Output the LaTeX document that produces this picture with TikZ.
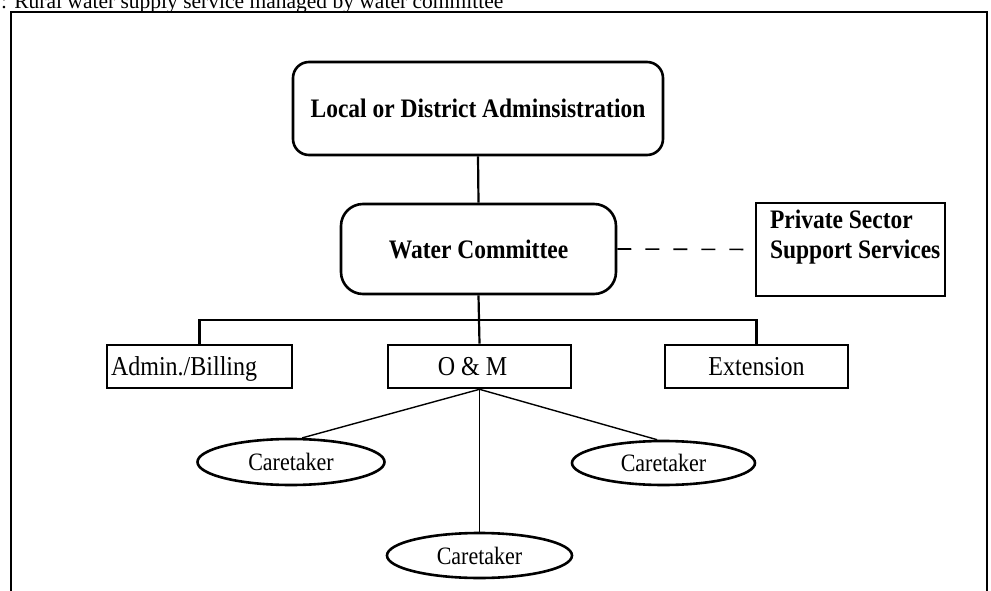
\documentclass[tikz,border=0pt]{standalone}
\usepackage{fontspec}
\setmainfont{Liberation Serif}[FakeStretch=0.88]
\newfontfamily\capfont{Liberation Serif}
\usetikzlibrary{shapes.geometric}
\begin{document}
\begin{tikzpicture}[x=1pt,y=-1pt,
  boldbox/.style={draw, line width=2.6pt, rounded corners=#1, inner sep=0pt, font=\fontsize{26.7}{30}\selectfont\bfseries},
  plainbox/.style={draw, line width=2.4pt, inner sep=0pt, font=\fontsize{26.7}{30}\selectfont\bfseries},
  unitbox/.style={draw, line width=2.6pt, inner sep=0pt, minimum height=43pt, text height=18pt, text depth=0pt, font=\fontsize{27.3}{30}\selectfont},
  carebox/.style={draw, ellipse, line width=2.6pt, inner sep=0pt, font=\fontsize{25}{28}\selectfont},
  link/.style={line width=2.2pt},
  thinlink/.style={line width=1.4pt},
  dashlink/.style={line width=1.6pt, dash pattern=on 14pt off 14pt},
  frameline/.style={line width=2pt}
]
\useasboundingbox (0,0) rectangle (991,591);

% caption, cut off by the top edge as in the reference
\node[anchor=base west, inner sep=0pt, font=\capfont\fontsize{21.5}{24}\selectfont] (cap) at (1,9)
  {: Rural water supply service managed by water committee};

% frame
\draw[frameline] (11,600) -- (11,12) -- (987,12) -- (987,600);

% nodes
\node[boldbox=16pt, minimum width=370pt, minimum height=93pt] (lda) at (478,108.5)
  {Local or District Adminsistration};
\node[boldbox=22pt, minimum width=275pt, minimum height=90pt] (wc) at (478.5,249)
  {Water Committee};
\node[plainbox, minimum width=189pt, minimum height=93pt] (pss) at (850.5,249.5)
  {\parbox[c][80pt][t]{161pt}{\mbox{Private Sector}\\\mbox{Support Services}}};

\node[unitbox, minimum width=185pt] (adm) at (199.5,366.5) {\makebox[177pt][l]{Admin./Billing}};
\node[unitbox, minimum width=183pt] (om) at (479.5,366.5) {\makebox[183pt]{O \& M\hspace{14pt}}};
\node[unitbox, minimum width=183pt] (ext) at (756.5,366.5) {Extension};

\node[carebox, minimum width=187pt, minimum height=46pt] (ct1) at (291,462) {Caretaker};
\node[carebox, minimum width=183pt, minimum height=44pt] (ct2) at (663.5,463) {Caretaker};
\node[carebox, minimum width=185pt, minimum height=45pt] (ct3) at (479.5,555.5) {Caretaker};

% connectors
\coordinate (bus) at (478.5,320);
\draw[link] (lda.south) -- (wc.north);
\draw[link] (wc.south) -- (om.north);
\draw[link] (adm.north) |- (bus) -| (ext.north);
\draw[dashlink] (wc.east) -- (pss.west);
\draw[thinlink] (om.south) -- (ct1.65);
\draw[thinlink] (om.south) -- (ct2.105);
\draw[thinlink] (om.south) -- (ct3.north);
\end{tikzpicture}
\end{document}
